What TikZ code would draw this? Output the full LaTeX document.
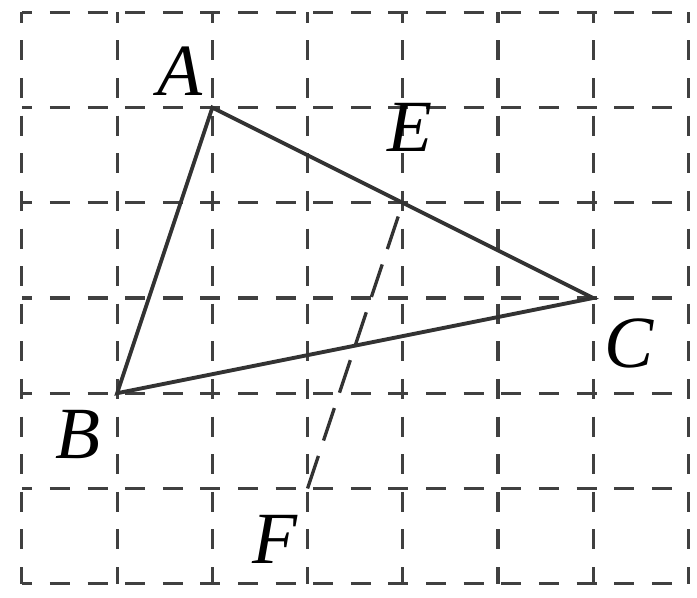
\documentclass[tikz,border=0pt]{standalone}
\usepackage{fontspec}
\setmainfont{Liberation Serif}
\usepackage{tikz}
\usetikzlibrary{calc}

\begin{document}
\begin{tikzpicture}[x=1cm,y=1cm,
    gridline/.style={black!75,line width=0.95pt,dash pattern=on 0.21cm off 0.185cm,dash phase=0.1cm},
    side/.style={black!80,line width=1.15pt},
    median/.style={black!80,line width=1pt,dash pattern=on 0.36cm off 0.17cm},
    lbl/.style={font=\fontsize{22}{26}\selectfont\itshape}]
  \useasboundingbox (-0.23,-0.14) rectangle (7.09,6.13);
  % grid
  \foreach \i in {0,...,7}
    \draw[gridline] (\i,6) -- (\i,0);
  \foreach \j in {0,...,6}
    \draw[gridline] (0,\j) -- (7,\j);
  % vertices
  \coordinate (A) at (2,5);
  \coordinate (B) at (1,2);
  \coordinate (C) at (6,3);
  \coordinate (E) at (4,4);
  \coordinate (F) at (3,1);
  % triangle and line through E
  \draw[side] (A) -- (B) -- (C) -- cycle;
  \draw[median] (F) -- (E);
  % labels
  \node[lbl] (labelA) at (1.66,5.38) {A};
  \node[lbl] (labelB) at (0.59,1.57) {B};
  \node[lbl] (labelC) at (6.38,2.52) {C};
  \node[lbl] (labelE) at (4.08,4.79) {E};
  \node[lbl] (labelF) at (2.66,0.46) {F};
\end{tikzpicture}
\end{document}
